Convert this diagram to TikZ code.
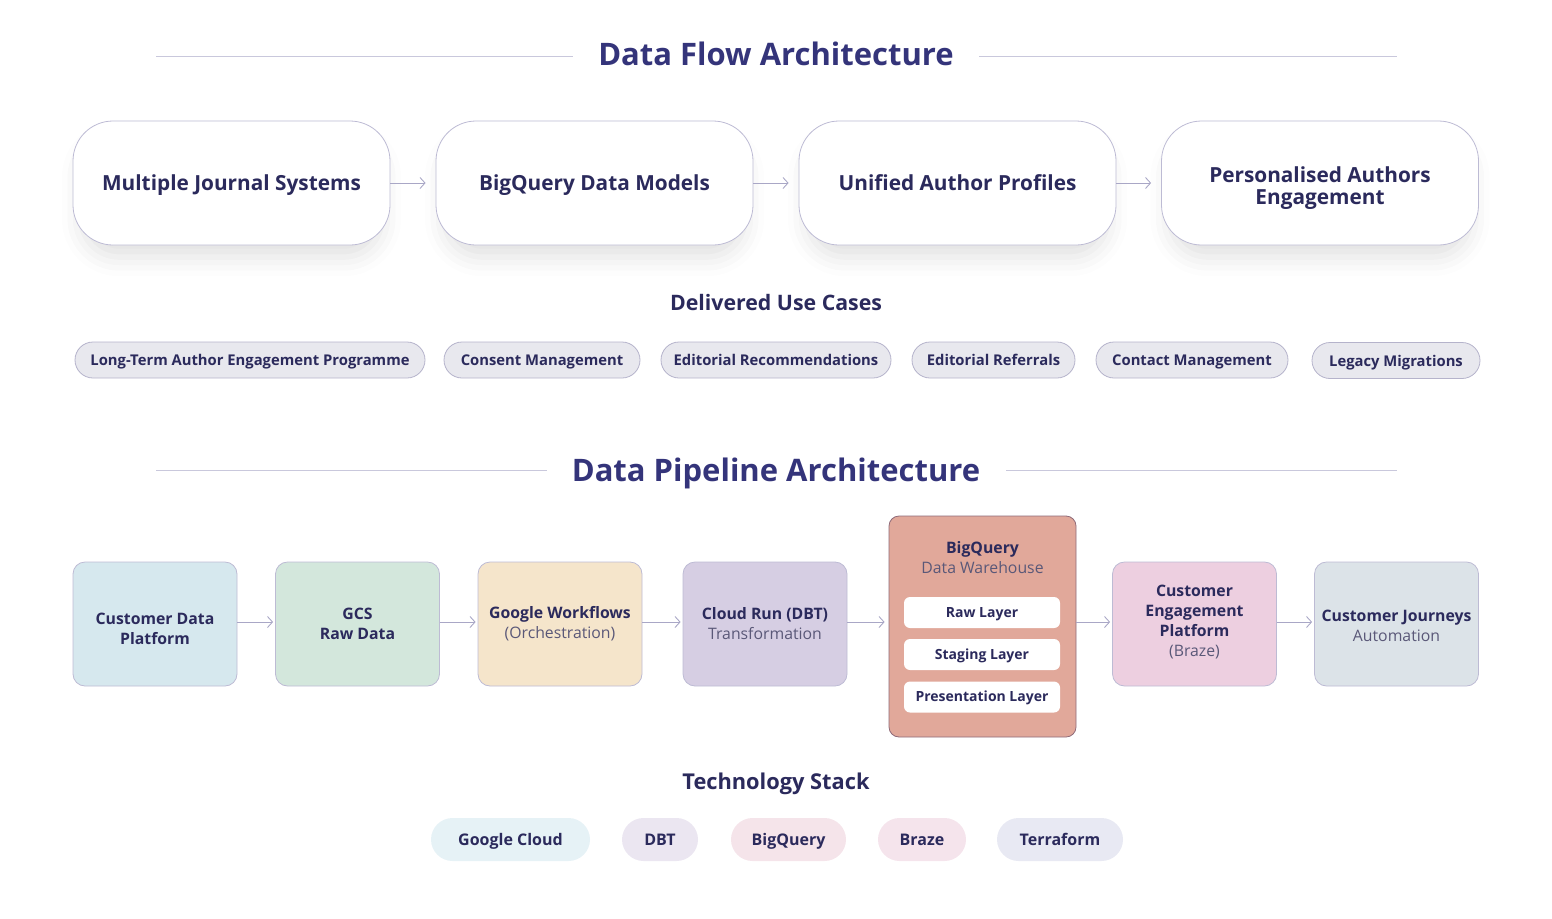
\documentclass[tikz,border=0pt]{standalone}
\usepackage{fontspec}
\setmainfont{Open Sans}
\usetikzlibrary{shadows.blur,arrows.meta}
\definecolor{ink}{HTML}{2B2A5C}
\definecolor{inklight}{HTML}{5A5878}
\definecolor{titlec}{HTML}{34347A}
\definecolor{rulec}{HTML}{C9C8DC}
\definecolor{bordc}{HTML}{BDBBD4}
\definecolor{arrc}{HTML}{A9A7C6}
\definecolor{pillf}{HTML}{E8E8EE}
\definecolor{pillb}{HTML}{B5B3CB}
\definecolor{cdp}{HTML}{D6E8EE}
\definecolor{gcs}{HTML}{D3E7DC}
\definecolor{gwf}{HTML}{F5E5CB}
\definecolor{crun}{HTML}{D6CEE3}
\definecolor{bqf}{HTML}{E1A89A}
\definecolor{bqb}{HTML}{8E6A78}
\definecolor{cep}{HTML}{EDCFE0}
\definecolor{cj}{HTML}{DCE3E8}
\definecolor{tgc}{HTML}{E6F2F6}
\definecolor{tdbt}{HTML}{EBE6F1}
\definecolor{tbq}{HTML}{F5E4EA}
\definecolor{tbr}{HTML}{F5E4EC}
\definecolor{ttf}{HTML}{E8E9F3}
\tikzset{
  titletext/.style={font=\fontsize{31}{34}\selectfont\bfseries, text=titlec, text height=24pt, text depth=1pt},
  heading/.style={font=\fontsize{21.3}{24}\selectfont\bfseries, text=ink},
  rulel/.style={draw=rulec, line width=0.9pt},
  flowbox/.style={draw=bordc, fill=white, line width=0.8pt, rounded corners=40pt,
    minimum width=317pt, minimum height=124pt, align=center, text=ink,
    font=\fontsize{20.8}{22}\selectfont\bfseries, text height=15pt, text depth=1pt,
    blur shadow={shadow xshift=0pt, shadow yshift=-16pt, shadow opacity=12, shadow blur radius=20pt, shadow scale=0.95}},
  usepill/.style={draw=pillb, fill=pillf, line width=0.8pt, rounded corners=18pt,
    minimum height=36pt, inner xsep=0pt, text=ink, font=\fontsize{14.8}{16}\selectfont\bfseries,
    text height=13pt, text depth=1.5pt},
  pbox/.style={draw=bordc, line width=0.8pt, rounded corners=12pt,
    minimum width=164pt, minimum height=124pt},
  pboxtext/.style={align=center, text=ink, inner sep=0pt, font=\fontsize{15.8}{20}\selectfont},
  layerbox/.style={fill=white, rounded corners=6pt, minimum width=156pt, minimum height=31pt,
    text=ink, font=\fontsize{14}{16}\selectfont\bfseries, text height=11pt, text depth=2pt},
  techpill/.style={rounded corners=21.5pt, minimum height=43pt, inner xsep=0pt,
    text=ink, font=\fontsize{16}{18}\selectfont\bfseries, text height=13pt, text depth=1pt},
  flowarrow/.style={draw=arrc, line width=0.9pt, -{Straight Barb[length=5pt,width=11pt]}},
}
\newcommand{\lt}[1]{{\mdseries\color{inklight}#1}}
\begin{document}
\begin{tikzpicture}[x=1pt,y=-1pt]
\useasboundingbox (0,0) rectangle (1552,918);

% ---------- Data Flow Architecture ----------
\node[titletext] (t1) at (776,54) {Data Flow Architecture};
\coordinate (t1a) at (156,56);
\coordinate (t1b) at (573,56);
\coordinate (t1c) at (979,56);
\coordinate (t1d) at (1397,56);
\draw[rulel] (t1a) -- (t1b);
\draw[rulel] (t1c) -- (t1d);

\node[flowbox] (f1) at (231.5,183) {Multiple Journal Systems};
\node[flowbox] (f2) at (594.5,183) {BigQuery Data Models};
\node[flowbox] (f3) at (957.5,183) {Unified Author Profiles};
\node[flowbox, text height=43pt] (f4) at (1320,183) {Personalised Authors\\Engagement};

\draw[flowarrow, shorten >=10pt] (f1) -- (f2);
\draw[flowarrow, shorten >=10pt] (f2) -- (f3);
\draw[flowarrow, shorten >=10pt] (f3) -- (f4);

\node[heading] (uc) at (776,303) {Delivered Use Cases};

\node[usepill, minimum width=350pt] (u1) at (250,360) {Long-Term Author Engagement Programme};
\node[usepill, minimum width=196pt] (u2) at (542,360) {Consent Management};
\node[usepill, minimum width=230pt] (u3) at (776,360) {Editorial Recommendations};
\node[usepill, minimum width=163pt] (u4) at (993.5,360) {Editorial Referrals};
\node[usepill, minimum width=192pt] (u5) at (1192,360) {Contact Management};
\node[usepill, minimum width=168pt] (u6) at (1396,360.5) {Legacy Migrations};

% ---------- Data Pipeline Architecture ----------
\node[titletext] (t2) at (776,470) {Data Pipeline Architecture};
\coordinate (t2a) at (156,470);
\coordinate (t2b) at (547,470);
\coordinate (t2c) at (1006,470);
\coordinate (t2d) at (1397,470);
\draw[rulel] (t2a) -- (t2b);
\draw[rulel] (t2c) -- (t2d);

\node[pbox, fill=cdp, label={[pboxtext, yshift=-5pt]center:{\textbf{Customer Data}\\\textbf{Platform}}}] (p1) at (155,624) {};
\node[pbox, fill=gcs, label={[pboxtext]center:{\textbf{GCS}\\\textbf{Raw Data}}}] (p2) at (357.5,624) {};
\node[pbox, fill=gwf, label={[pboxtext]center:{\textbf{Google Workflows}\\\lt{(Orchestration)}}}] (p3) at (560,624) {};
\node[pbox, fill=crun, label={[pboxtext]center:{\textbf{Cloud Run (DBT)}\\\lt{Transformation}}}] (p4) at (765,624) {};
\node[draw=bqb, fill=bqf, line width=0.8pt, rounded corners=10pt,
      minimum width=187pt, minimum height=221pt] (bq) at (982.5,626.5) {};
\node[pboxtext] (bqt) at (982.5,558) {\textbf{BigQuery}\\\lt{Data Warehouse}};
\node[layerbox] (l1) at (982,612.5) {Raw Layer};
\node[layerbox] (l2) at (982,654.5) {Staging Layer};
\node[layerbox] (l3) at (982,697) {Presentation Layer};
\node[pbox, fill=cep, label={[pboxtext, yshift=2pt]center:{\textbf{Customer}\\\textbf{Engagement}\\\textbf{Platform}\\\lt{(Braze)}}}] (p6) at (1194.5,624) {};
\node[pbox, fill=cj, label={[pboxtext, yshift=-2pt]center:{\textbf{Customer Journeys}\\\lt{Automation}}}] (p7) at (1396.5,624) {};

\draw[flowarrow, shorten >=2pt] (p1.east |- 0,622) -- (p2.west |- 0,622);
\draw[flowarrow, shorten >=2pt] (p2.east |- 0,622) -- (p3.west |- 0,622);
\draw[flowarrow, shorten >=2pt] (p3.east |- 0,622) -- (p4.west |- 0,622);
\draw[flowarrow, shorten >=4pt] (p4.east |- 0,622) -- (bq.west |- 0,622);
\draw[flowarrow, shorten >=2pt] (bq.east |- 0,622) -- (p6.west |- 0,622);
\draw[flowarrow, shorten >=2pt] (p6.east |- 0,622) -- (p7.west |- 0,622);

\node[heading, font=\fontsize{21.8}{24}\selectfont\bfseries] (ts) at (776,784) {Technology Stack};

\node[techpill, fill=tgc, minimum width=159pt] (k1) at (510.5,839.5) {Google Cloud};
\node[techpill, fill=tdbt, minimum width=76pt] (k2) at (660,839.5) {DBT};
\node[techpill, fill=tbq, minimum width=115pt] (k3) at (788.5,839.5) {BigQuery};
\node[techpill, fill=tbr, minimum width=88pt] (k4) at (922,839.5) {Braze};
\node[techpill, fill=ttf, minimum width=126pt] (k5) at (1060,839.5) {Terraform};
\end{tikzpicture}
\end{document}
